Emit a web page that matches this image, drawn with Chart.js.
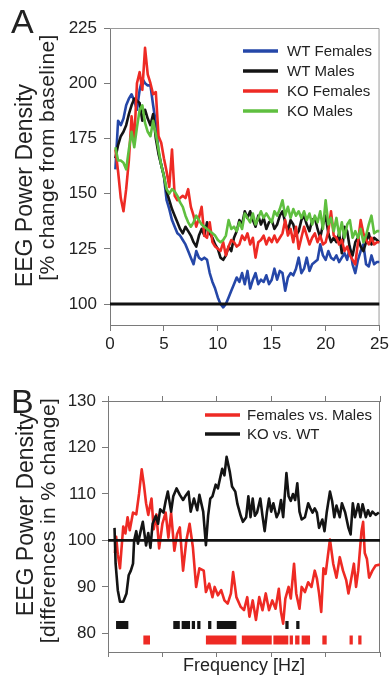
<!DOCTYPE html>
<html>
<head>
<meta charset="utf-8">
<script src="https://cdn.jsdelivr.net/npm/chart.js@4.4.1/dist/chart.umd.min.js"></script>
<style>
  body { margin: 0; background: #fff; font-family: "Liberation Sans", Arial, sans-serif; color: #222; }
  #wrap { position: relative; width: 392px; height: 675px; overflow: hidden; }
  canvas { position: absolute; left: 0; }
  .panel { position: absolute; font-size: 34px; line-height: 34px; }
  .ytitle { position: absolute; width: 320px; text-align: center; white-space: nowrap; transform: rotate(-90deg); }
  .t1 { font-size: 23px; line-height: 23px; }
  .t2 { font-size: 21px; line-height: 21px; letter-spacing: 0.4px; }
  .xtitle { position: absolute; font-size: 18px; line-height: 18px; width: 200px; text-align: center; }
</style>
</head>
<body>
<div id="wrap">
  <canvas id="chartA" width="392" height="360" style="top:0"></canvas>
  <canvas id="chartB" width="392" height="315" style="top:360px"></canvas>
  <div class="panel" style="left:11px;top:4px">A</div>
  <div class="panel" style="left:11px;top:384px">B</div>
  <div class="ytitle t1" style="left:-136px;top:174px">EEG Power Density</div>
  <div class="ytitle t2" style="left:-114px;top:147px">[% change from baseline]</div>
  <div class="ytitle t1" style="left:-135px;top:503px">EEG Power Density</div>
  <div class="ytitle t2" style="left:-113px;top:510px">[differences in % change]</div>
  <div class="xtitle" style="left:144px;top:656px">Frequency [Hz]</div>
</div>
<script>
// ---- panel A: % change from baseline ----
const freqA = [0.5, 0.75,
  1, 1.25, 1.5, 1.75, 2, 2.25, 2.5, 2.75, 3, 3.25, 3.5, 3.75, 4, 4.25, 4.5, 4.75,
  5, 5.25, 5.5, 5.75, 6, 6.25, 6.5, 6.75, 7, 7.25, 7.5, 7.75, 8, 8.25, 8.5, 8.75,
  9, 9.25, 9.5, 9.75, 10, 10.25, 10.5, 10.75, 11, 11.25, 11.5, 11.75, 12, 12.25, 12.5, 12.75,
  13, 13.25, 13.5, 13.75, 14, 14.25, 14.5, 14.75, 15, 15.25, 15.5, 15.75, 16, 16.25, 16.5, 16.75,
  17, 17.25, 17.5, 17.75, 18, 18.25, 18.5, 18.75, 19, 19.25, 19.5, 19.75, 20, 20.25, 20.5, 20.75,
  21, 21.25, 21.5, 21.75, 22, 22.25, 22.5, 22.75, 23, 23.25, 23.5, 23.75, 24, 24.25, 24.5, 24.75, 25];

const wtFemales = [161, 183,
  181, 184, 190, 193, 195, 192, 188, 197, 202, 200, 199, 199, 190, 182, 169, 163,
  158, 147, 143, 138, 135, 132, 131, 129, 127, 124, 121, 118, 124, 121, 120, 121,
  120, 114, 110, 107, 103, 100, 98.5, 100, 103, 106, 109, 112, 110, 114, 109, 115,
  107, 111, 114, 109, 111, 110, 113, 109, 111, 116, 111, 115, 114, 106, 112, 114,
  113, 116, 121, 114, 116, 121, 115, 118, 119, 120, 127, 122, 120, 124, 121, 120,
  122, 119, 121, 123, 120, 126, 118, 114, 120, 124, 127, 118, 117, 122, 118, 119, 119];

const wtMales = [166, 172,
  176, 178, 181, 186, 190, 193, 192, 191, 183, 188, 184, 181, 186, 175, 168, 163,
  158, 151, 147, 143, 140, 137, 134, 132, 135, 133, 131, 128, 126, 131, 134, 131,
  137, 132, 130, 127, 125, 121, 120, 122, 126, 124, 130, 133, 138, 136, 142, 139,
  142, 138, 135, 140, 136, 139, 134, 137, 138, 134, 136, 140, 142, 137, 133, 138,
  136, 131, 133, 138, 140, 136, 133, 138, 139, 134, 130, 136, 140, 132, 128, 130,
  128, 132, 123, 135, 133, 125, 122, 128, 130, 126, 124, 128, 132, 127, 130, 129, 128];

const koFemales = [170, 160,
  148, 142, 152, 165, 185, 174, 200, 205, 197, 216, 204, 200, 195, 196, 176, 173,
  166, 160, 153, 170, 149, 147, 148, 149, 148, 152, 144, 140, 135, 139, 144, 131,
  130, 137, 128, 126, 125, 124, 128, 122, 126, 129, 128, 126, 127, 131, 129, 132,
  127, 130, 121, 128, 129, 131, 127, 130, 128, 131, 128, 130, 132, 138, 131, 134,
  128, 135, 125, 130, 135, 131, 127, 130, 132, 128, 131, 127, 128, 133, 142, 131,
  130, 127, 129, 124, 126, 122, 120, 118, 128, 138, 132, 129, 127, 130, 127, 128, 128];

const koMales = [171, 165,
  165, 164, 161, 170, 178, 171, 180, 188, 190, 182, 178, 176, 183, 177, 170, 163,
  158, 152, 150, 152, 151, 149, 146, 144, 140, 137, 135, 137, 140, 138, 136, 135,
  134, 133, 132, 131, 129, 128, 129, 131, 138, 134, 135, 133, 137, 134, 141, 139,
  137, 141, 136, 139, 142, 139, 141, 139, 137, 142, 140, 143, 147, 140, 144, 139,
  143, 140, 142, 139, 142, 138, 141, 136, 140, 137, 142, 134, 147, 136, 139, 133,
  139, 131, 137, 130, 136, 138, 130, 133, 130, 134, 128, 131, 136, 140, 132, 133, 133];

const baselineA = 100;
const xTicks = [0, 5, 10, 15, 20, 25];
const yTicksA = [100, 125, 150, 175, 200, 225];

// ---- panel B: differences in % change ----
const fmFreq = [0.64, 0.75, 0.9, 1.1, 1.4, 1.6, 1.8, 2.0, 2.3, 2.6, 2.85, 3.1, 3.3, 3.5, 3.7, 4.0, 4.2, 4.45, 4.7, 5.0,
  5.3, 5.55, 5.8, 6.1, 6.35, 6.6, 6.9, 7.2, 7.5, 7.8, 8.1, 8.4, 8.8, 9.0, 9.3, 9.6, 9.8, 10.1, 10.4, 10.7,
  11.0, 11.3, 11.5, 11.8, 12.2, 12.5, 12.8, 13.0, 13.3, 13.6, 13.9, 14.2, 14.5, 14.8, 15.1, 15.4, 15.7, 15.9, 16.1, 16.3,
  16.6, 16.8, 17.1, 17.3, 17.6, 17.8, 18.1, 18.4, 18.7, 19.0, 19.2, 19.4, 19.6, 19.8, 20.0, 20.4, 20.7, 21.0, 21.3, 21.6,
  21.9, 22.1, 22.3, 22.6, 22.8, 23.0, 23.3, 23.45, 23.6, 23.8, 24.0, 24.3, 24.6, 25];
const fmDiff = [97.3, 100.8, 97, 94, 103, 101.5, 105, 102.2, 106, 105.6, 110, 115.3, 112, 108, 105.5, 109, 102.4, 105.6, 98.3, 103.6,
  106, 100.6, 106, 97.8, 101.4, 102.8, 93.5, 100, 103.6, 98.6, 90, 94, 93.5, 88.9, 90.7, 87.8, 90, 88.2, 89.3, 87.1,
  86.4, 88.6, 93.2, 87.8, 85.7, 85, 87.8, 83.6, 87.1, 82.9, 87.8, 85, 88.6, 85, 87.1, 85.3, 89.6, 84.6, 82.1, 87.5,
  90, 87.5, 95, 88.6, 85.3, 90, 88.9, 91, 90, 93.5, 91.8, 88.6, 84.6, 94, 92.8, 100.2, 95, 92, 96.4, 93.5,
  91.4, 88.6, 91, 95, 90, 93.5, 102, 104, 97.3, 96, 92, 93.5, 94.6, 94.8];

const kwFreq = [0.6, 0.7, 0.9, 1.1, 1.4, 1.7, 1.9, 2.1, 2.3, 2.4, 2.6, 2.75, 3.0, 3.2, 3.5, 3.7, 3.9, 4.1, 4.4, 4.6,
  4.8, 5.1, 5.3, 5.5, 5.8, 6.0, 6.3, 6.6, 6.9, 7.1, 7.4, 7.6, 7.9, 8.2, 8.4, 8.75, 9.0, 9.2, 9.4, 9.6,
  9.9, 10.1, 10.3, 10.5, 10.7, 10.9, 11.2, 11.4, 11.7, 11.9, 12.2, 12.4, 12.7, 12.9, 13.1, 13.3, 13.5, 13.7, 14.0, 14.2,
  14.4, 14.6, 14.8, 15.0, 15.2, 15.5, 15.7, 15.9, 16.1, 16.4, 16.6, 16.8, 17.0, 17.2, 17.4, 17.6, 17.8, 18.1, 18.4, 18.6,
  18.8, 19.0, 19.2, 19.4, 19.7, 19.9, 20.1, 20.4, 20.6, 20.8, 21.0, 21.3, 21.5, 21.8, 22.1, 22.3, 22.5, 22.7, 23.0, 23.2,
  23.4, 23.7, 23.9, 24.1, 24.3, 24.6, 24.9];
const kwDiff = [102.7, 95, 89.3, 86.8, 86.8, 88.6, 92.5, 93.5, 95, 100, 102, 99.3, 102, 104, 98.9, 101.6, 98.4, 103.6, 105.3, 103.6,
  106.7, 106, 108.5, 110.5, 106.2, 109.5, 111.2, 109.8, 108.7, 109.5, 110.5, 106.2, 109, 106.5, 109.8, 106.2, 99, 105.3, 109, 109.5,
  112, 111.2, 113.4, 115.4, 114, 118, 114.7, 111.6, 110.5, 107.8, 105.3, 104, 105, 109.5, 105, 109, 105.3, 106, 109, 105.3,
  102, 106, 109, 106.2, 108, 105, 106, 108.7, 105, 114.5, 109.5, 108.5, 110, 108.7, 112.3, 106.2, 104.5, 105, 108, 106.9,
  106, 106.9, 106, 102.7, 104.5, 102, 106, 110.5, 108.5, 105, 107.5, 105, 108, 106, 102.7, 101.3, 108, 105, 107.8, 105,
  107.8, 105, 106.5, 105.3, 106.2, 105.5, 106];

// significant frequency ranges [from, to] in Hz
const sigKoWt = [[0.74, 1.87], [6.0, 6.6], [6.77, 7.54], [7.7, 8.0], [8.2, 8.5], [9.2, 9.5], [10.0, 11.8], [16.3, 16.6], [17.3, 17.6]];
const sigFm = [[3.25, 3.86], [9.0, 11.8], [12.3, 15.05], [15.2, 16.57], [16.7, 17.0], [17.2, 17.6], [17.8, 18.57], [19.7, 20.1], [22.2, 22.5], [23.0, 23.3]];
const sigLevelKoWt = 81.8;
const sigLevelFm = 78.6;
const baselineB = 100;
const yTicksB = [80, 90, 100, 110, 120, 130];

// ---- helpers ----
const FONT = "'Liberation Sans', Arial, sans-serif";
const AXIS_GRAY = "#7a7a7a";

const pts = (xs, ys) => xs.map((x, i) => ({ x: x, y: ys[i] }));
const sigPts = (ranges, level) => {
  const out = [];
  ranges.forEach(([a, b]) => { out.push({ x: a, y: level }, { x: b, y: level }, { x: b, y: null }); });
  return out;
};

const lineLegend = {
  id: "lineLegend",
  afterDraw(chart, args, opts) {
    const ctx = chart.ctx;
    ctx.save();
    ctx.font = opts.font;
    ctx.textBaseline = "middle";
    let y = opts.y;
    chart.data.datasets.forEach((ds) => {
      if (!ds.inLegend) return;
      ctx.strokeStyle = ds.borderColor;
      ctx.lineWidth = 3.5;
      ctx.beginPath();
      ctx.moveTo(opts.x, y);
      ctx.lineTo(opts.x + opts.lineLen, y);
      ctx.stroke();
      ctx.fillStyle = "#222";
      ctx.fillText(ds.label, opts.x + opts.lineLen + opts.gap, y + 1);
      y += opts.rowGap;
    });
    ctx.restore();
  },
};

const frame = {
  id: "frame",
  beforeDatasetsDraw(chart, args, opts) {
    const { ctx, chartArea: a } = chart;
    ctx.save();
    ctx.strokeStyle = opts.color;
    ctx.lineWidth = 1;
    ctx.beginPath();
    ctx.moveTo(a.left, a.top + 0.5);
    ctx.lineTo(a.right - 0.5, a.top + 0.5);
    ctx.lineTo(a.right - 0.5, a.bottom);
    ctx.stroke();
    ctx.restore();
  },
};

function lineSet(label, xs, ys, color, extra) {
  return Object.assign({
    label: label,
    data: pts(xs, ys),
    borderColor: color,
    borderWidth: 2.6,
    pointRadius: 0,
    tension: 0,
    fill: false,
    borderJoinStyle: "round",
    inLegend: true,
  }, extra || {});
}

const tickFont = { family: FONT, size: 17 };

// ============================
// PANEL A
// ============================
new Chart(document.getElementById("chartA"), {
  type: "line",
  data: {
    datasets: [
      lineSet("WT Females", freqA, wtFemales, "#2547a8", { order: 4 }),
      lineSet("WT Males", freqA, wtMales, "#141414", { order: 3 }),
      lineSet("KO Females", freqA, koFemales, "#ee2a24", { order: 2 }),
      lineSet("KO Males", freqA, koMales, "#5fbf3f", { order: 1 }),
      lineSet("baseline", [0, 25], [baselineA, baselineA], "#111", { borderWidth: 2.8, inLegend: false, order: 0 }),
    ],
  },
  options: {
    responsive: false,
    animation: false,
    events: [],
    layout: { padding: { left: 0, right: 10, top: 28, bottom: 0 } },
    plugins: {
      legend: { display: false },
      tooltip: { enabled: false },
      frame: { color: "#9a9a9a" },
      lineLegend: { x: 243, y: 51, lineLen: 35, gap: 9, rowGap: 20, font: "15px " + FONT },
    },
    scales: {
      x: {
        type: "linear",
        min: 0,
        max: 25,
        afterBuildTicks: (s) => { s.ticks = xTicks.map((v) => ({ value: v })); },
        afterFit: (s) => { s.height = 35; },
        grid: { drawOnChartArea: false, drawTicks: true, tickLength: 6, color: AXIS_GRAY },
        border: { color: AXIS_GRAY, width: 1 },
        ticks: { color: "#222", font: tickFont, padding: 3, maxRotation: 0, autoSkip: false },
      },
      y: {
        min: 90.5,
        max: 225,
        afterBuildTicks: (s) => { s.ticks = yTicksA.map((v) => ({ value: v })); },
        afterFit: (s) => { s.width = 110; },
        grid: { drawOnChartArea: false, drawTicks: true, tickLength: 6, color: AXIS_GRAY },
        border: { color: AXIS_GRAY, width: 1 },
        ticks: { color: "#222", font: tickFont, padding: 7 },
      },
    },
  },
  plugins: [frame, lineLegend],
});

// ============================
// PANEL B
// ============================
new Chart(document.getElementById("chartB"), {
  type: "line",
  data: {
    datasets: [
      lineSet("Females vs. Males", fmFreq, fmDiff, "#ee2a24", { order: 3 }),
      lineSet("KO vs. WT", kwFreq, kwDiff, "#141414", { order: 2 }),
      lineSet("baseline", [0, 25], [baselineB, baselineB], "#111", { borderWidth: 2.8, inLegend: false, order: 1 }),
      { label: "sig KO vs. WT", data: sigPts(sigKoWt, sigLevelKoWt), borderColor: "#141414", borderWidth: 8,
        borderCapStyle: "butt", pointRadius: 0, spanGaps: false, inLegend: false },
      { label: "sig Females vs. Males", data: sigPts(sigFm, sigLevelFm), borderColor: "#ee2a24", borderWidth: 9,
        borderCapStyle: "butt", pointRadius: 0, spanGaps: false, inLegend: false },
    ],
  },
  options: {
    responsive: false,
    animation: false,
    events: [],
    layout: { padding: { left: 0, right: 12, top: 36, bottom: 0 } },
    plugins: {
      legend: { display: false },
      tooltip: { enabled: false },
      frame: { color: AXIS_GRAY },
      lineLegend: { x: 205, y: 55, lineLen: 35, gap: 7, rowGap: 19, font: "15px " + FONT },
    },
    scales: {
      x: {
        type: "linear",
        min: 0,
        max: 25,
        afterBuildTicks: (s) => { s.ticks = xTicks.map((v) => ({ value: v })); },
        afterFit: (s) => { s.height = 23; },
        grid: { drawOnChartArea: false, drawTicks: true, tickLength: 5, color: AXIS_GRAY },
        border: { color: AXIS_GRAY, width: 1 },
        ticks: { display: false },
      },
      xTop: {
        type: "linear",
        position: "top",
        min: 0,
        max: 25,
        afterBuildTicks: (s) => { s.ticks = xTicks.map((v) => ({ value: v })); },
        afterFit: (s) => { s.height = 5; },
        grid: { drawOnChartArea: false, drawTicks: true, tickLength: 5, color: AXIS_GRAY },
        border: { color: AXIS_GRAY, width: 1 },
        ticks: { display: false },
      },
      y: {
        min: 76,
        max: 130,
        afterBuildTicks: (s) => { s.ticks = yTicksB.map((v) => ({ value: v })); },
        afterFit: (s) => { s.width = 108; },
        grid: { drawOnChartArea: false, drawTicks: true, tickLength: 6, color: AXIS_GRAY },
        border: { color: AXIS_GRAY, width: 1 },
        ticks: { color: "#222", font: tickFont, padding: 6 },
      },
    },
  },
  plugins: [frame, lineLegend],
});
</script>
</body>
</html>
